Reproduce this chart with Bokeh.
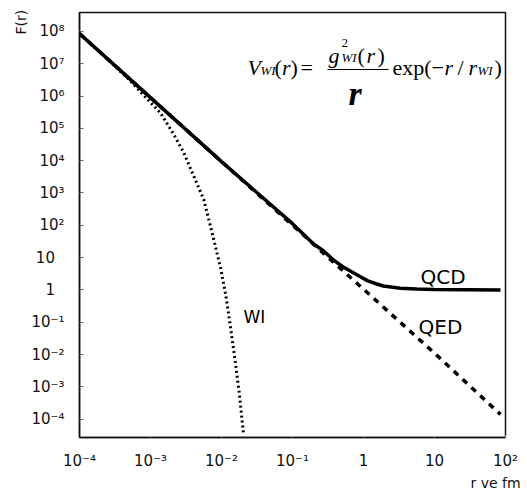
from bokeh.plotting import figure
from bokeh.models import Range1d, FixedTicker, Label, BoxAnnotation, Title
from bokeh.embed import file_html
from bokeh.resources import INLINE

# ---- data ----
r_qcd = [1e-4, 1e-3, 1e-2, 0.1, 0.2, 0.275, 0.38, 0.5, 0.66, 0.89, 1.15, 1.5, 1.9, 3.3, 5.6, 10, 85]
F_qcd = [8.5e7, 8.9e5, 9.3e3, 112, 26, 16, 8.3, 5.4, 3.8, 2.6, 1.9, 1.55, 1.32, 1.12, 1.06, 1.02, 1.0]

r_qed = [1e-4, 1e-3, 1e-2, 0.1, 1, 10, 85]
F_qed = [8.5e7, 8.9e5, 9.3e3, 100, 1.05, 1.1e-2, 1.4e-4]

r_wi = [1e-4, 2.5e-4, 5.0e-4, 1e-3, 1.38e-3, 2.14e-3, 2.95e-3, 4.07e-3, 5.62e-3,
        7.41e-3, 9.77e-3, 1.15e-2, 1.35e-2, 1.58e-2, 1.78e-2, 2.04e-2]
F_wi = [8.5e7, 1.35e7, 3.2e6, 6.3e5, 3.0e5, 6.3e4, 1.74e4, 3.3e3, 630,
        56, 4.5, 0.68, 0.063, 5.0e-3, 6.3e-4, 3.5e-5]

x_ticks = [1e-4, 1e-3, 1e-2, 1e-1, 1.0, 10.0, 100.0]
x_tick_labels = ["10\u207b\u2074", "10\u207b\u00b3", "10\u207b\u00b2", "10\u207b\u00b9", "1", "10", "10\u00b2"]

y_ticks = [1e8, 1e7, 1e6, 1e5, 1e4, 1e3, 1e2, 10.0, 1.0, 1e-1, 1e-2, 1e-3, 1e-4]
y_tick_labels = ["10\u2078", "10\u2077", "10\u2076", "10\u2075", "10\u2074", "10\u00b3", "10\u00b2",
                 "10\u2007", "1\u2007", "10\u207b\u00b9", "10\u207b\u00b2", "10\u207b\u00b3", "10\u207b\u2074"]

SANS = "DejaVu Sans"
SERIF = "Liberation Serif"

# frame in page pixels: left 79, right 505, top 12, bottom 440
p = figure(width=527, height=490, x_axis_type="log", y_axis_type="log",
           x_range=Range1d(1e-4, 1e2), y_range=Range1d(2.7e-5, 3.84e8),
           output_backend="svg", toolbar_location=None,
           min_border_left=79, min_border_right=22, min_border_top=12, min_border_bottom=50)

p.background_fill_color = "white"
p.border_fill_color = "white"
p.grid.visible = False
p.outline_line_color = "#111111"
p.outline_line_width = 1.5

p.xaxis.ticker = FixedTicker(ticks=x_ticks, minor_ticks=[])
p.yaxis.ticker = FixedTicker(ticks=y_ticks, minor_ticks=[])
p.xaxis.major_label_overrides = dict(zip(x_ticks, x_tick_labels))
p.yaxis.major_label_overrides = dict(zip(y_ticks, y_tick_labels))

for ax in (p.xaxis[0], p.yaxis[0]):
    ax.axis_line_color = "#111111"
    ax.axis_line_width = 1.5
    ax.major_label_text_font = SANS
    ax.major_label_text_font_size = "15px"
    ax.major_label_text_color = "#111111"
    ax.major_tick_out = 0
    ax.minor_tick_line_color = None

p.yaxis.major_tick_in = 4
p.yaxis.major_tick_line_color = "#666666"
p.yaxis.major_label_standoff = 15
p.xaxis.major_tick_in = 2
p.xaxis.major_tick_line_color = "#bbbbbb"
p.xaxis.major_label_standoff = 14

# axis titles placed in the side panels
p.add_layout(Title(text="F(r)", align="left", offset=403, standoff=0,
                   text_font=SANS, text_font_size="14px", text_font_style="normal",
                   text_color="#111111"), "left")
p.add_layout(Title(text="r ve fm", align="left", offset=391, standoff=0,
                   text_font=SANS, text_font_size="14px", text_font_style="normal",
                   text_color="#111111"), "below")

# ---- curves ----
p.line(r_wi, F_wi, line_color="black", line_width=3, line_dash="2 3")
p.line(r_qed, F_qed, line_color="black", line_width=3.5, line_dash="6 6")
p.line(r_qcd, F_qcd, line_color="black", line_width=3.5)

# ---- text placed in page pixel positions (frame left=79, bottom=440) ----
FL, FB = 79, 440
DY = -6  # baseline correction observed for Label text


def put(text, xw, yw, size, style="normal", font=SERIF, align="left",
        baseline="alphabetic", angle=0.0):
    p.add_layout(Label(x=xw - FL, y=FB - (yw + DY), x_units="screen", y_units="screen",
                       text=text, text_font=font, text_font_size=f"{size}px",
                       text_font_style=style, text_align=align,
                       text_baseline=baseline, angle=angle, text_color="black"))


# curve labels
put("QCD", 420, 285, 20, font=SANS)
put("QED", 418, 335, 20, font=SANS)
put("WI", 243, 325, 17, font=SANS)

# formula  V_WI(r) = g^2_WI(r) / r  exp(-r / r_WI)
put("V", 247, 76, 22, "italic")
put("WI", 260, 79, 13, "italic")
put("(", 274, 76, 22)
put("r", 281.5, 76, 22, "italic")
put(")", 290, 76, 22)
put("=", 300, 76, 22)
put("g", 328, 64, 22, "italic")
put("2", 341, 51, 13)
put("WI", 341, 66, 13, "italic")
put("(", 357, 64, 22)
put("r", 366, 64, 22, "italic")
put(")", 377, 64, 22)
p.add_layout(BoxAnnotation(left=327 - FL, right=388 - FL, top=FB - 71.5, bottom=FB - 72.5,
                           left_units="screen", right_units="screen",
                           top_units="screen", bottom_units="screen",
                           fill_color="black", fill_alpha=1.0, line_color=None))
put("r", 348, 102, 34, "bold italic")
put("exp(\u2212", 392, 76, 22)
put("r", 444, 76, 22, "italic")
put("/", 457, 76, 22)
put("r", 468, 76, 22, "italic")
put("WI", 477, 79, 13, "italic")
put(")", 494, 76, 22)

open("out.html", "w").write(file_html(p, INLINE))
